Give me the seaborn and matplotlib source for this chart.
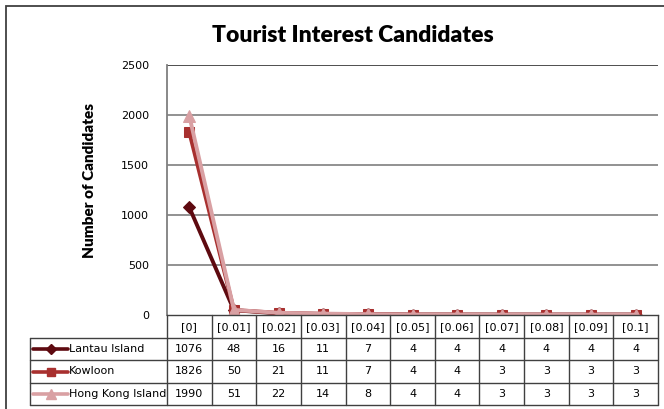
import matplotlib
matplotlib.use("Agg")
import matplotlib.pyplot as plt
from matplotlib.lines import Line2D
from matplotlib.patches import Rectangle
import matplotlib.transforms as mtrans
import seaborn as sns
import pandas as pd

categories = ["[0]", "[0.01]", "[0.02]", "[0.03]", "[0.04]", "[0.05]",
              "[0.06]", "[0.07]", "[0.08]", "[0.09]", "[0.1]"]
series_names = ["Lantau Island", "Kowloon", "Hong Kong Island"]
lantau = [1076, 48, 16, 11, 7, 4, 4, 4, 4, 4, 4]
kowloon = [1826, 50, 21, 11, 7, 4, 4, 3, 3, 3, 3]
hk_island = [1990, 51, 22, 14, 8, 4, 4, 3, 3, 3, 3]
yticks = [0, 500, 1000, 1500, 2000, 2500]

values = [lantau, kowloon, hk_island]
colors = {"Lantau Island": "#5E0A10", "Kowloon": "#A8302F", "Hong Kong Island": "#D9A0A3"}
markers = {"Lantau Island": "D", "Kowloon": "s", "Hong Kong Island": "^"}
msizes = {"Lantau Island": 6, "Kowloon": 7, "Hong Kong Island": 8}

rows = []
for name, vals in zip(series_names, values):
    for i, v in enumerate(vals):
        rows.append({"series": name, "pos": i, "value": v})
df = pd.DataFrame(rows)

sns.set_style("white")
plt.rcParams["text.color"] = "black"
plt.rcParams["ytick.color"] = "black"
W, H = 664, 409
fig = plt.figure(figsize=(W / 100, H / 100), dpi=100)

def fx(px):
    return px / W

def fy(py):
    return 1 - py / H

ax_l, ax_r, ax_t, ax_b = 167, 658, 65, 315
ax = fig.add_axes([fx(ax_l), fy(ax_b), fx(ax_r) - fx(ax_l), fy(ax_t) - fy(ax_b)])

for name in series_names:
    sub = df[df["series"] == name]
    sns.lineplot(data=sub, x="pos", y="value", ax=ax, color=colors[name],
                 marker=markers[name], markersize=msizes[name],
                 markeredgecolor=colors[name], linewidth=2.8, legend=False)

ax.set_xlim(-0.5, len(categories) - 0.5)
ax.set_ylim(0, 2500)
ax.set_yticks(yticks)
ax.set_yticklabels([str(t) for t in yticks], fontsize=8, family="DejaVu Sans", color="black")
ax.set_xticks([])
ax.set_xlabel("")
ax.set_ylabel("")
ax.tick_params(axis="y", length=0, pad=13)
for t in yticks[1:]:
    ax.axhline(t, color="#7f7f7f" if t < 2500 else "#303030", lw=1.2, zorder=0)
for s in ["top", "right"]:
    ax.spines[s].set_visible(False)
ax.spines["left"].set_color("#7f7f7f")
ax.spines["left"].set_linewidth(1.3)
ax.spines["bottom"].set_color("#404040")
ax.spines["bottom"].set_linewidth(1.0)

fig.text(fx(353), fy(35), "Tourist Interest Candidates", ha="center", va="center",
         fontsize=16.5, fontweight="heavy", family="Lato", color="black")
fig.text(fx(90), fy(181), "Number of Candidates", ha="center", va="center",
         rotation=90, fontsize=11, fontweight="heavy", family="Lato", color="black")

# Outer chart border (right edge lies off the canvas, as in the reference)
fig.add_artist(Rectangle((fx(6), fy(414)), fx(670) - fx(6), fy(6) - fy(414),
                         transform=fig.transFigure, fill=False, ec="#404040", lw=1.3))

# Data table
blend = mtrans.blended_transform_factory(ax.transData, fig.transFigure)
row_y = [315, 338, 360, 383, 405]
lc = "#404040"
n = len(categories)
for i in range(n + 1):
    fig.add_artist(Line2D([i - 0.5, i - 0.5], [fy(row_y[0]), fy(row_y[-1])],
                          transform=blend, color=lc, lw=1.0))
for yy in row_y[1:]:
    fig.add_artist(Line2D([fx(30), fx(ax_r)], [fy(yy), fy(yy)],
                          transform=fig.transFigure, color=lc, lw=1.0))
fig.add_artist(Line2D([fx(30), fx(30)], [fy(row_y[1]), fy(row_y[-1])],
                      transform=fig.transFigure, color=lc, lw=1.0))

for i, c in enumerate(categories):
    fig.text(i, fy((row_y[0] + row_y[1]) / 2 + 1), c, transform=blend,
             ha="center", va="center", fontsize=8, family="DejaVu Sans")

for r, (name, vals) in enumerate(zip(series_names, values)):
    yc = fy((row_y[r + 1] + row_y[r + 2]) / 2)
    fig.add_artist(Line2D([fx(33), fx(68)], [yc, yc], transform=fig.transFigure,
                          color=colors[name], lw=2.6))
    fig.add_artist(Line2D([fx(50.5)], [yc], transform=fig.transFigure,
                          color=colors[name], marker=markers[name],
                          markersize=msizes[name] - 1, lw=0))
    fig.text(fx(69), yc, name, ha="left", va="center", fontsize=8, family="DejaVu Sans")
    for i, v in enumerate(vals):
        fig.text(i, yc, str(v), transform=blend, ha="center", va="center",
                 fontsize=8, family="DejaVu Sans")

fig.savefig("out.png", dpi=100)
